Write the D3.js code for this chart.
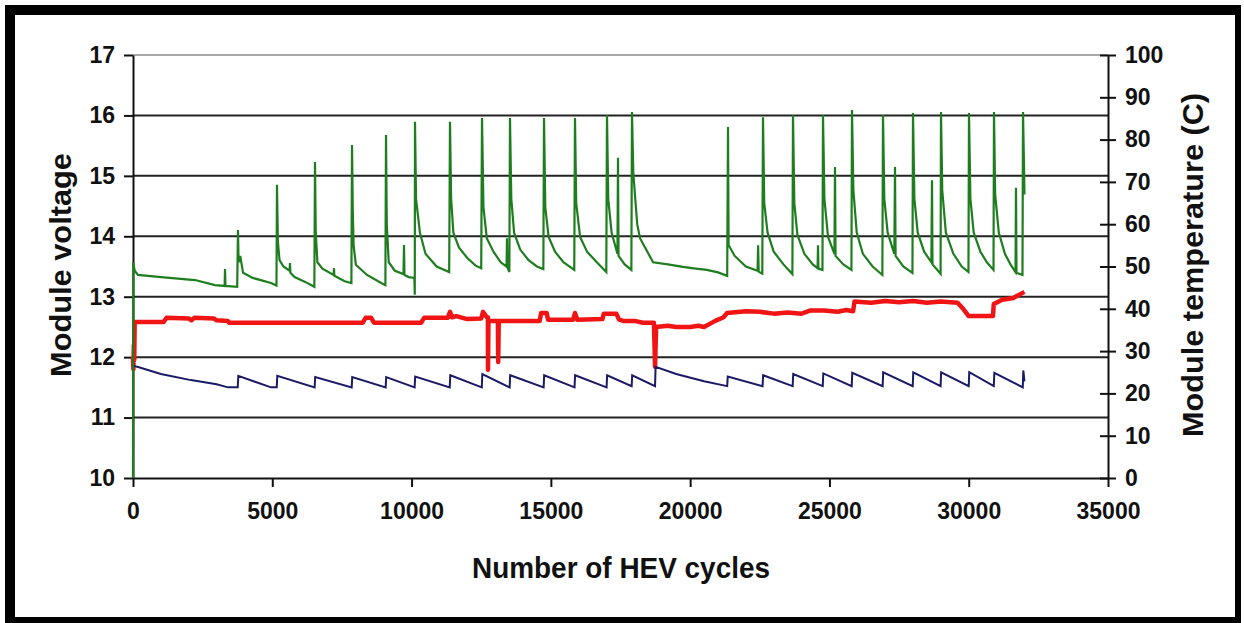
<!DOCTYPE html>
<html lang="en">
<head>
    <meta charset="UTF-8">
    <title>Module voltage and temperature vs HEV cycles</title>
    <script src="https://d3js.org/d3.v7.min.js"></script>
    <style>
        body { margin: 0; background: #fff; }
        text { font-family: "Liberation Sans", Arial, sans-serif; font-weight: bold; fill: #111; }
    </style>
</head>
<body>
    <svg width="1244" height="623"></svg>
    <script type="text/javascript">

        // tick values
        var cycleTicks = [0, 5000, 10000, 15000, 20000, 25000, 30000, 35000];
        var voltTicks = [10, 11, 12, 13, 14, 15, 16, 17];
        var tempTicks = [0, 10, 20, 30, 40, 50, 60, 70, 80, 90, 100];

        // green: module temperature (C), [cycle, temp]
        var tempSeries = [
            [0, 0], [10, 51], [60, 49], [180, 48], [1005, 47.5], [2226, 46.8], [2944, 45.6], [3290, 45.4], [3303, 49.4], [3320, 45.4], [3740, 45.2],
            [3769, 58.6], [3790, 51], [3850, 52.5], [3950, 48.5], [4300, 47.3], [4954, 46.1], [5150, 45.5],
            [5169, 69.3], [5200, 56], [5260, 51.5], [5400, 50], [5620, 49], [5636, 50.8], [5650, 48.5], [5800, 47.5], [6200, 46.3], [6510, 45.2],
            [6533, 74.7], [6560, 58], [6620, 51], [6800, 49.5], [7200, 48], [7215, 49.6], [7230, 47.8], [7600, 46.5], [7840, 46.1],
            [7862, 78.7], [7890, 63], [7920, 55], [8000, 50.4], [8400, 48], [8800, 46.5], [9060, 45.6],
            [9082, 81.1], [9110, 60], [9180, 51], [9400, 49], [9710, 48.2], [9728, 55.1], [9745, 48], [9900, 47.5], [10100, 47.3], [10115, 43.3],
            [10123, 84.2], [10160, 66], [10300, 58], [10500, 53], [10900, 50], [11350, 48.7],
            [11379, 84.2], [11420, 66], [11500, 58], [11700, 54.5], [12000, 52], [12300, 50.2], [12500, 49.6],
            [12528, 85.1], [12580, 64], [12700, 56.7], [12950, 53.4], [13200, 51], [13410, 50], [13425, 56.7], [13440, 49.8], [13510, 48.7],
            [13533, 85.1], [13580, 66], [13680, 58], [13900, 54], [14200, 51.5], [14500, 50], [14730, 49.4],
            [14754, 85.1], [14800, 64], [14920, 57], [15150, 53.5], [15450, 51], [15840, 49.2],
            [15866, 85.1], [15910, 65], [16050, 57], [16300, 53.5], [16650, 51], [16990, 48.7],
            [17015, 85.8], [17060, 66], [17180, 58], [17390, 53], [17410, 75.7], [17430, 52.5], [17650, 50.5], [17890, 49.2],
            [17913, 86.5], [17960, 72], [18100, 60], [18200, 56.7], [18670, 51], [19200, 50.5], [19744, 49.9], [20200, 49.5], [20600, 49.2], [21000, 48.6], [21330, 47.8],
            [21359, 83], [21380, 55.1], [21600, 52.5], [22000, 50], [22420, 49], [22440, 55], [22460, 48.8], [22590, 48.3],
            [22615, 85.3], [22660, 65], [22780, 58], [23000, 53.5], [23350, 50.5], [23670, 48.2],
            [23692, 85.8], [23740, 65], [23850, 57.5], [24100, 53], [24400, 50.5], [24575, 49.6], [24590, 55], [24605, 49.5], [24750, 49.2],
            [24769, 85.8], [24820, 66], [24950, 57], [25180, 53], [25200, 73.5], [25220, 52.5], [25500, 50.5], [25790, 49.2],
            [25810, 87], [25860, 68], [25980, 58], [26200, 53], [26550, 50], [26900, 48],
            [26923, 85.8], [26970, 66], [27090, 58], [27330, 53], [27354, 73.5], [27375, 52.5], [27650, 50], [27980, 48.5],
            [28000, 86.3], [28050, 66], [28170, 58], [28400, 53.5], [28660, 51], [28682, 70.4], [28700, 50.5], [28990, 48.3],
            [29005, 86.5], [29050, 68], [29180, 58], [29450, 53], [29750, 50], [29990, 48.7],
            [30010, 86.3], [30060, 66], [30180, 58], [30420, 53.5], [30650, 51], [30890, 49.2],
            [30907, 86.5], [30950, 67], [31080, 58], [31300, 53], [31500, 50.5], [31680, 48.7], [31697, 68.6], [31715, 48.5], [31930, 48],
            [31949, 86.5], [31990, 72], [32000, 67]
        ];

        // red: upper module voltage, [cycle, volts]
        var upperVolt = [
            [0, 12.0], [15, 11.8], [30, 12.2], [45, 11.95], [60, 12.58], [1100, 12.58], [1200, 12.65], [2000, 12.64], [2100, 12.61], [2200, 12.65],
            [2900, 12.64], [3000, 12.61], [3400, 12.6], [3450, 12.57], [8250, 12.57], [8350, 12.65], [8550, 12.65], [8650, 12.57],
            [10340, 12.57], [10450, 12.65], [11300, 12.65], [11380, 12.75], [11450, 12.66], [11600, 12.68], [12000, 12.63], [12500, 12.64],
            [12564, 12.75], [12700, 12.66], [12740, 12.66], [12744, 11.79], [12760, 12.6], [13100, 12.6], [13110, 11.92], [13130, 12.6],
            [14600, 12.6], [14650, 12.73], [14850, 12.73], [14900, 12.62], [15800, 12.62], [15866, 12.73], [15950, 12.62],
            [16850, 12.63], [16900, 12.72], [17350, 12.72], [17450, 12.62], [17600, 12.6], [18000, 12.6], [18300, 12.57], [18700, 12.57],
            [18740, 11.84], [18780, 12.5], [19200, 12.52], [19500, 12.5], [20000, 12.5], [20300, 12.52], [20500, 12.5], [20900, 12.6],
            [21200, 12.66], [21320, 12.73], [22000, 12.76], [22500, 12.75], [23000, 12.72], [23500, 12.74], [24000, 12.72], [24300, 12.77],
            [24800, 12.77], [25300, 12.75], [25600, 12.78], [25850, 12.76], [25900, 12.92], [26500, 12.9], [27000, 12.93], [27500, 12.91],
            [28000, 12.93], [28500, 12.9], [29000, 12.92], [29600, 12.9], [29800, 12.8], [30000, 12.68], [30870, 12.68], [30900, 12.88],
            [31200, 12.95], [31600, 12.98], [32000, 13.08]
        ];

        // blue: lower module voltage, [cycle, volts]
        var lowerVolt = [
            [0, 11.86], [300, 11.82], [1000, 11.72], [2080, 11.62], [3000, 11.55], [3410, 11.5], [3760, 11.5], [3780, 11.69],
            [4954, 11.5], [5160, 11.5], [5180, 11.69], [6520, 11.5], [6540, 11.67], [7850, 11.5], [7870, 11.67],
            [9070, 11.5], [9090, 11.67], [10110, 11.5], [10130, 11.68], [11370, 11.5], [11390, 11.7], [12520, 11.5], [12540, 11.72],
            [13520, 11.5], [13540, 11.7], [14740, 11.5], [14760, 11.7], [15850, 11.5], [15870, 11.7], [17000, 11.5], [17020, 11.7],
            [17900, 11.52], [17920, 11.7], [18740, 11.52], [18760, 11.84], [19500, 11.72], [20500, 11.6], [21330, 11.52], [21350, 11.68],
            [22600, 11.52], [22620, 11.7], [23680, 11.52], [23700, 11.72], [24760, 11.52], [24780, 11.73], [25800, 11.52], [25820, 11.74],
            [26910, 11.52], [26930, 11.75], [27990, 11.52], [28010, 11.75], [28990, 11.52], [29010, 11.75], [30000, 11.52], [30020, 11.75],
            [30900, 11.52], [30920, 11.74], [31940, 11.5], [31960, 11.78], [32000, 11.6]
        ];

        var svg = d3.select("svg");

        // frame
        svg.append("rect").attr("x", 5).attr("y", 5).attr("width", 1236).attr("height", 618).attr("fill", "#000");
        svg.append("rect").attr("x", 15).attr("y", 15).attr("width", 1220).attr("height", 602).attr("fill", "#fff");

        var x = d3.scaleLinear().domain([0, 35000]).range([133, 1108]);
        var yV = d3.scaleLinear().domain([10, 17]).range([478, 55]);
        var yT = d3.scaleLinear().domain([0, 100]).range([478, 55]);

        // gridlines
        svg.append("g")
            .selectAll("line")
            .data(voltTicks.slice(1))
            .enter().append("line")
            .attr("x1", x(0))
            .attr("x2", x(35000))
            .attr("y1", function(d) { return yV(d); })
            .attr("y2", function(d) { return yV(d); })
            .attr("stroke", function(d) { return d == 17 ? "#8a8a8a" : "#222"; })
            .attr("stroke-width", function(d) { return d == 17 ? 1.5 : 2; });

        // axes
        var gx = svg.append("g")
            .attr("transform", "translate(0," + yV(10) + ")")
            .call(d3.axisBottom(x).tickValues(cycleTicks).tickFormat(d3.format("d")).tickSize(9).tickSizeOuter(0).tickPadding(16));

        var gl = svg.append("g")
            .attr("transform", "translate(" + x(0) + ",0)")
            .call(d3.axisLeft(yV).tickValues(voltTicks).tickFormat(d3.format("d")).tickSize(9).tickSizeOuter(0).tickPadding(9));

        var gr = svg.append("g")
            .attr("transform", "translate(" + x(35000) + ",0)")
            .call(d3.axisRight(yT).tickValues(tempTicks).tickFormat(d3.format("d")).tickSize(8).tickSizeOuter(0).tickPadding(9));
        gr.selectAll(".tick line").attr("x1", -8);

        [gx, gl, gr].forEach(function(g) {
            g.select(".domain").attr("stroke", "#111").attr("stroke-width", 2);
            g.selectAll(".tick line").attr("stroke", "#111").attr("stroke-width", 2);
            g.selectAll("text").attr("font-size", "23px").attr("fill", "#111");
        });

        // series
        var lineT = d3.line()
            .x(function(d) { return x(d[0]); })
            .y(function(d) { return yT(d[1]); });
        var lineV = d3.line()
            .x(function(d) { return x(d[0]); })
            .y(function(d) { return yV(d[1]); });

        svg.append("path").datum(upperVolt)
            .attr("d", lineV)
            .attr("fill", "none")
            .attr("stroke", "#f01414")
            .attr("stroke-width", 4.5)
            .attr("stroke-linejoin", "round");

        svg.append("path").datum(lowerVolt)
            .attr("d", lineV)
            .attr("fill", "none")
            .attr("stroke", "#1a1a66")
            .attr("stroke-width", 2);

        svg.append("path").datum(tempSeries)
            .attr("d", lineT)
            .attr("fill", "none")
            .attr("stroke", "#1e7d1e")
            .attr("stroke-width", 2.2);

        // axis titles
        svg.append("text")
            .attr("x", 621)
            .attr("y", 578)
            .attr("text-anchor", "middle")
            .attr("font-size", "29px")
            .attr("textLength", 298)
            .attr("lengthAdjust", "spacingAndGlyphs")
            .text("Number of HEV cycles");

        svg.append("text")
            .attr("transform", "translate(71,265) rotate(-90)")
            .attr("text-anchor", "middle")
            .attr("font-size", "30px")
            .attr("textLength", 224)
            .attr("lengthAdjust", "spacingAndGlyphs")
            .text("Module voltage");

        svg.append("text")
            .attr("transform", "translate(1203,265) rotate(-90)")
            .attr("text-anchor", "middle")
            .attr("font-size", "30px")
            .attr("textLength", 344)
            .attr("lengthAdjust", "spacingAndGlyphs")
            .text("Module temperature (C)");

    </script>
</body>
</html>
